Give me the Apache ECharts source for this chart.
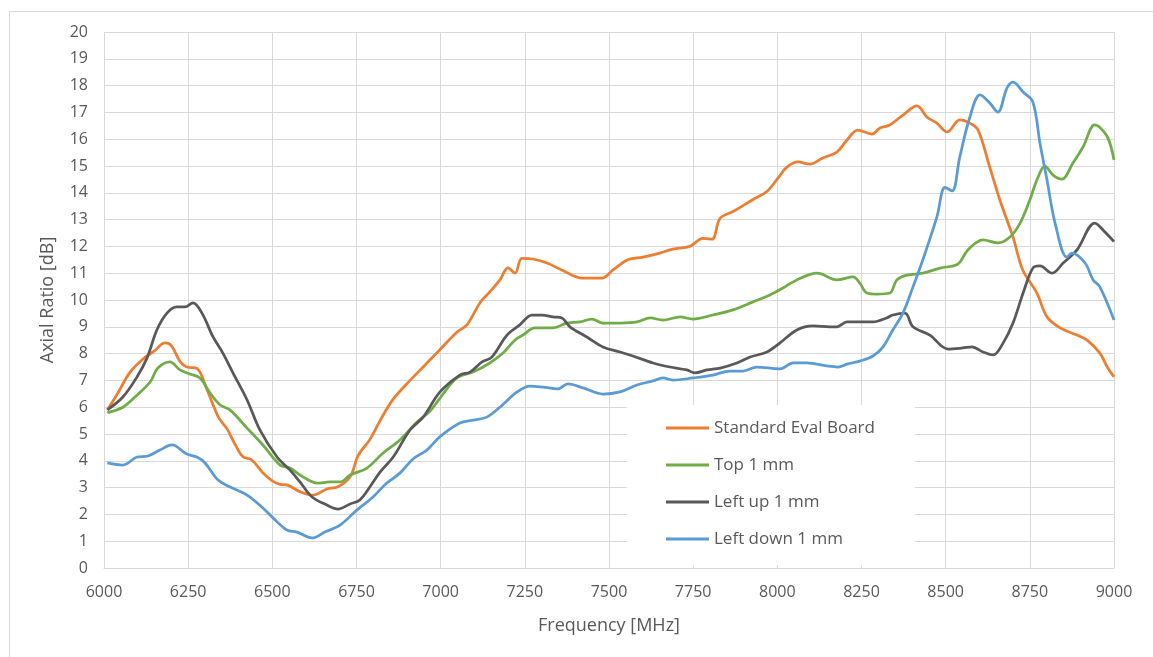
<!DOCTYPE html>
<html>
<head>
<meta charset="utf-8">
<script src="https://cdn.jsdelivr.net/npm/echarts@6/dist/echarts.min.js"></script>
<style>
  html, body { margin: 0; padding: 0; background: #fff; }
  #chart { width: 1153px; height: 657px; }
</style>
</head>
<body>
<div id="chart"></div>
<script>
// Axial ratio vs. frequency, [MHz, dB] pairs per antenna configuration
const standardEvalBoard = [[6010,5.9],[6040,6.5],[6077,7.3],[6116,7.8],[6150,8.1],[6181,8.4],[6200,8.3],[6226,7.7],[6246,7.5],[6276,7.45],[6306,6.65],[6339,5.65],[6365,5.2],[6390,4.6],[6413,4.15],[6439,4.03],[6472,3.55],[6500,3.25],[6523,3.12],[6543,3.1],[6582,2.85],[6621,2.72],[6662,2.95],[6695,3.03],[6731,3.4],[6755,4.2],[6790,4.8],[6820,5.5],[6859,6.3],[6909,7.0],[6948,7.5],[6998,8.15],[7048,8.8],[7078,9.07],[7117,9.9],[7146,10.3],[7176,10.75],[7200,11.2],[7221,11.0],[7241,11.55],[7274,11.53],[7316,11.38],[7363,11.1],[7420,10.82],[7479,10.82],[7512,11.12],[7556,11.5],[7601,11.6],[7651,11.75],[7690,11.9],[7740,12.0],[7779,12.3],[7806,12.27],[7830,13.05],[7868,13.3],[7928,13.75],[7969,14.05],[7999,14.5],[8028,14.95],[8061,15.15],[8097,15.07],[8135,15.3],[8177,15.52],[8207,15.97],[8239,16.34],[8281,16.19],[8305,16.42],[8334,16.53],[8373,16.9],[8415,17.24],[8444,16.83],[8474,16.6],[8504,16.27],[8542,16.72],[8572,16.6],[8596,16.35],[8631,14.96],[8661,13.73],[8700,12.35],[8729,11.12],[8771,10.26],[8801,9.37],[8840,8.96],[8890,8.69],[8920,8.5],[8958,8.02],[8980,7.5],[9000,7.13]];

const top1mm = [[6010,5.8],[6056,6.0],[6098,6.45],[6137,6.94],[6160,7.46],[6196,7.69],[6226,7.39],[6255,7.24],[6285,7.09],[6315,6.53],[6345,6.08],[6374,5.9],[6425,5.22],[6472,4.59],[6523,3.84],[6552,3.73],[6591,3.4],[6633,3.17],[6671,3.21],[6701,3.21],[6731,3.47],[6781,3.73],[6829,4.29],[6879,4.78],[6930,5.45],[6968,5.85],[6998,6.34],[7048,7.09],[7096,7.31],[7146,7.65],[7185,8.02],[7221,8.51],[7244,8.69],[7280,8.96],[7334,8.96],[7375,9.14],[7414,9.18],[7449,9.29],[7482,9.14],[7533,9.14],[7583,9.18],[7622,9.33],[7660,9.25],[7711,9.37],[7749,9.29],[7809,9.44],[7868,9.63],[7928,9.93],[7978,10.19],[8017,10.45],[8058,10.75],[8118,11.0],[8177,10.75],[8225,10.86],[8245,10.63],[8266,10.26],[8296,10.22],[8334,10.26],[8355,10.75],[8385,10.93],[8432,11.0],[8483,11.19],[8536,11.34],[8566,11.87],[8611,12.24],[8655,12.13],[8691,12.35],[8721,12.87],[8750,13.73],[8771,14.48],[8795,15.0],[8819,14.66],[8845,14.51],[8878,15.11],[8908,15.71],[8943,16.53],[8979,16.12],[9000,15.22]];

const leftUp1mm = [[6010,5.9],[6056,6.38],[6098,7.13],[6128,7.84],[6157,8.88],[6187,9.51],[6216,9.74],[6240,9.74],[6264,9.89],[6291,9.51],[6324,8.62],[6353,8.02],[6383,7.28],[6425,6.27],[6463,5.15],[6514,4.14],[6552,3.66],[6582,3.21],[6618,2.65],[6662,2.35],[6695,2.2],[6731,2.39],[6760,2.54],[6790,3.03],[6820,3.58],[6859,4.14],[6909,5.15],[6948,5.63],[6998,6.57],[7057,7.2],[7087,7.31],[7123,7.69],[7152,7.87],[7197,8.69],[7235,9.07],[7271,9.44],[7301,9.44],[7334,9.37],[7360,9.33],[7384,9.0],[7434,8.62],[7482,8.25],[7533,8.06],[7571,7.91],[7631,7.65],[7681,7.5],[7731,7.39],[7755,7.28],[7791,7.39],[7830,7.46],[7880,7.65],[7919,7.87],[7969,8.06],[8008,8.4],[8058,8.88],[8106,9.03],[8156,9.0],[8177,9.0],[8207,9.18],[8284,9.18],[8325,9.33],[8343,9.44],[8379,9.51],[8403,9.0],[8453,8.69],[8507,8.17],[8551,8.21],[8578,8.25],[8611,8.06],[8641,7.95],[8671,8.4],[8700,9.14],[8730,10.26],[8759,11.19],[8780,11.27],[8816,11.0],[8849,11.38],[8890,11.87],[8943,12.87],[8973,12.54],[9000,12.18]];

const leftDown1mm = [[6010,3.92],[6056,3.84],[6098,4.14],[6131,4.18],[6166,4.4],[6202,4.59],[6246,4.25],[6276,4.14],[6300,3.92],[6339,3.28],[6374,3.03],[6425,2.72],[6472,2.24],[6502,1.87],[6543,1.42],[6573,1.34],[6618,1.12],[6656,1.34],[6701,1.6],[6751,2.16],[6799,2.65],[6840,3.17],[6879,3.54],[6918,4.07],[6959,4.4],[6998,4.9],[7057,5.41],[7096,5.52],[7137,5.63],[7176,6.0],[7227,6.57],[7265,6.79],[7304,6.75],[7348,6.68],[7378,6.87],[7423,6.72],[7482,6.49],[7533,6.57],[7583,6.83],[7631,6.98],[7660,7.09],[7690,7.01],[7749,7.09],[7809,7.2],[7859,7.35],[7898,7.35],[7939,7.5],[8008,7.43],[8047,7.65],[8088,7.65],[8147,7.54],[8180,7.5],[8207,7.61],[8245,7.72],[8284,7.91],[8314,8.25],[8343,8.88],[8373,9.51],[8403,10.49],[8432,11.49],[8474,13.1],[8498,14.2],[8519,14.07],[8542,15.34],[8572,16.83],[8602,17.65],[8631,17.35],[8655,17.01],[8682,17.91],[8700,18.13],[8730,17.76],[8759,17.39],[8780,15.86],[8801,14.48],[8825,12.87],[8860,11.6],[8875,11.75],[8914,11.38],[8938,10.75],[8958,10.49],[9000,9.25]];

const seriesNames = ['Standard Eval Board', 'Top 1 mm', 'Left up 1 mm', 'Left down 1 mm'];
const seriesData = [standardEvalBoard, top1mm, leftUp1mm, leftDown1mm];
const seriesColors = ['#ED7D31', '#70AD47', '#595959', '#5B9BD5'];

const xAxisName = 'Frequency [MHz]';
const yAxisName = 'Axial Ratio [dB]';

const FONT = '"Open Sans", "Liberation Sans", sans-serif';
const TEXT_COLOR = '#595959';
const GRID_COLOR = '#D9D9D9';

const chart = echarts.init(document.getElementById('chart'), null, { renderer: 'canvas' });

chart.setOption({
  animation: false,
  backgroundColor: '#ffffff',
  graphic: [{
    type: 'rect',
    left: 7, top: 9,
    shape: { width: 1170, height: 670 },
    style: { fill: 'none', stroke: GRID_COLOR, lineWidth: 1 },
    silent: true, z: -1
  }],
  grid: { left: 104, right: 39, top: 32, bottom: 89 },
  xAxis: {
    type: 'value',
    min: 6000, max: 9000, interval: 250,
    name: xAxisName,
    nameLocation: 'middle',
    nameGap: 49,
    nameTextStyle: { fontFamily: FONT, fontSize: 18, color: TEXT_COLOR },
    axisLine: { show: true, lineStyle: { color: GRID_COLOR, width: 1 } },
    axisTick: { show: false },
    axisLabel: {
      fontFamily: FONT, fontSize: 16, color: TEXT_COLOR, margin: 16,
      formatter: v => String(v)
    },
    splitLine: { show: true, lineStyle: { color: GRID_COLOR, width: 1 } }
  },
  yAxis: {
    type: 'value',
    min: 0, max: 20, interval: 1,
    name: yAxisName,
    nameLocation: 'middle',
    nameGap: 47,
    nameRotate: 90,
    nameTextStyle: { fontFamily: FONT, fontSize: 18, color: TEXT_COLOR },
    axisLine: { show: false },
    axisTick: { show: false },
    axisLabel: { fontFamily: FONT, fontSize: 16, color: TEXT_COLOR, margin: 16 },
    splitLine: { show: true, lineStyle: { color: GRID_COLOR, width: 1 } }
  },
  legend: {
    orient: 'vertical',
    left: 627, top: 405,
    padding: [13, 40, 16, 39],
    backgroundColor: '#ffffff',
    itemWidth: 43,
    itemHeight: 3,
    itemGap: 17,
    icon: 'rect',
    textStyle: { fontFamily: FONT, fontSize: 17, color: TEXT_COLOR, lineHeight: 20 },
    data: seriesNames
  },
  series: seriesNames.map((name, i) => ({
    name,
    type: 'line',
    data: seriesData[i],
    smooth: 0.35,
    showSymbol: false,
    symbol: 'none',
    color: seriesColors[i],
    lineStyle: { width: 2.75, color: seriesColors[i] },
    z: 2 + i
  }))
});
</script>
</body>
</html>
